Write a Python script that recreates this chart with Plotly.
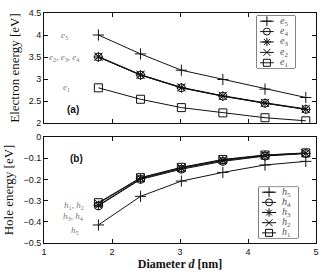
import plotly.graph_objects as go

diam = [1.80, 2.42, 3.02, 3.63, 4.25, 4.85]

e5 = [4.00, 3.57, 3.20, 2.99, 2.77, 2.58]
e4 = [3.50, 3.09, 2.80, 2.61, 2.45, 2.31]
e3 = [3.50, 3.09, 2.80, 2.61, 2.45, 2.31]
e2 = [3.51, 3.10, 2.81, 2.62, 2.46, 2.32]
e1 = [2.80, 2.54, 2.35, 2.23, 2.12, 2.05]

h5 = [-0.415, -0.280, -0.208, -0.167, -0.132, -0.115]
h4 = [-0.325, -0.200, -0.152, -0.115, -0.090, -0.078]
h3 = [-0.322, -0.197, -0.148, -0.111, -0.088, -0.077]
h2 = [-0.313, -0.193, -0.145, -0.108, -0.086, -0.076]
h1 = [-0.310, -0.192, -0.143, -0.106, -0.085, -0.075]

e_names = ["e<sub>5</sub>", "e<sub>4</sub>", "e<sub>3</sub>", "e<sub>2</sub>", "e<sub>1</sub>"]
h_names = ["h<sub>5</sub>", "h<sub>4</sub>", "h<sub>3</sub>", "h<sub>2</sub>", "h<sub>1</sub>"]
symbols = ["cross-thin-open", "circle-open", "asterisk-open", "x-thin-open", "square-open"]

INK = "#111"
serif = "Liberation Serif"

def marker(sym, size=8):
    return dict(symbol=sym, size=size, color=INK, line=dict(width=1, color=INK))

fig = go.Figure()
for name, ys, sym in zip(e_names, [e5, e4, e3, e2, e1], symbols):
    fig.add_trace(go.Scatter(x=diam, y=ys, mode="lines+markers", name=name,
                             line=dict(color=INK, width=1), marker=marker(sym),
                             xaxis="x", yaxis="y", showlegend=False))
for name, ys, sym in zip(h_names, [h5, h4, h3, h2, h1], symbols):
    fig.add_trace(go.Scatter(x=diam, y=ys, mode="lines+markers", name=name,
                             line=dict(color=INK, width=1), marker=marker(sym),
                             xaxis="x2", yaxis="y2", showlegend=False))

# compact legend boxes (plotly's native legend rows are too tall for this size)
legend_boxes = [
    (e_names, "x3", "y3", [0.783, 0.923], [0.761, 0.987]),
    (h_names, "x4", "y4", [0.790, 0.934], [0.022, 0.243]),
]
shapes = []
anns = []
for names, xa, ya, xd, yd in legend_boxes:
    n = len(names)
    for i, (nm, sym) in enumerate(zip(names, symbols)):
        yy = 1 - (i + 0.5) / n
        fig.add_trace(go.Scatter(x=[0.08, 0.44], y=[yy, yy], mode="lines",
                                 line=dict(color=INK, width=1), xaxis=xa, yaxis=ya,
                                 showlegend=False, hoverinfo="skip"))
        fig.add_trace(go.Scatter(x=[0.26], y=[yy], mode="markers", marker=marker(sym, 7),
                                 xaxis=xa, yaxis=ya, showlegend=False, hoverinfo="skip"))
        txt = "<i>%s</i><sub>%s</sub>" % (nm[0], nm.split("<sub>")[1].split("</sub>")[0])
        anns.append(dict(x=0.55, y=yy, xref=xa, yref=ya, text=txt, showarrow=False,
                         xanchor="left", yanchor="middle",
                         font=dict(family=serif, size=10, color="#555")))
    shapes.append(dict(type="rect", xref="paper", yref="paper", x0=xd[0], x1=xd[1], y0=yd[0], y1=yd[1],
                       line=dict(color=INK, width=1), fillcolor="white", layer="below"))

tickfont = dict(family="Liberation Sans", size=9, color=INK)
axcommon = dict(showline=True, linecolor=INK, linewidth=1, mirror="ticks", ticks="inside",
                ticklen=4, tickcolor=INK, showgrid=False, zeroline=False, tickfont=tickfont)
hidden = dict(range=[0, 1], visible=False, fixedrange=True)

fig.update_layout(
    width=321, height=272,
    margin=dict(l=44, r=5, t=13, b=29, autoexpand=False),
    paper_bgcolor="white", plot_bgcolor="white",
    xaxis=dict(domain=[0, 1], range=[1, 5], dtick=1, showticklabels=False, anchor="y", **axcommon),
    yaxis=dict(domain=[0.5217, 1], range=[2, 4.5], dtick=0.5, anchor="x",
               title=dict(text="Electron energy [eV]", font=dict(family=serif, size=13, color=INK), standoff=6),
               **axcommon),
    xaxis2=dict(domain=[0, 1], range=[1, 5], dtick=1, anchor="y2",
                title=dict(text="<b>Diameter <i>d</i> [nm]</b>", font=dict(family=serif, size=12, color=INK), standoff=1),
                **axcommon),
    yaxis2=dict(domain=[0, 0.4609], range=[-0.5, 0], dtick=0.1, anchor="x2",
                title=dict(text="Hole energy [eV]", font=dict(family=serif, size=13, color=INK), standoff=6),
                **axcommon),
    xaxis3=dict(domain=legend_boxes[0][3], anchor="y3", **hidden),
    yaxis3=dict(domain=legend_boxes[0][4], anchor="x3", **hidden),
    xaxis4=dict(domain=legend_boxes[1][3], anchor="y4", **hidden),
    yaxis4=dict(domain=legend_boxes[1][4], anchor="x4", **hidden),
    showlegend=False,
)

ann_font = dict(family=serif, size=9, color="#777")
anns += [
    dict(x=1.3, y=4.0, xref="x", yref="y", text="<i>e</i><sub>5</sub>", showarrow=False, font=ann_font),
    dict(x=1.3, y=3.5, xref="x", yref="y", text="<i>e</i><sub>2</sub>, <i>e</i><sub>3</sub>, <i>e</i><sub>4</sub>", showarrow=False, font=ann_font),
    dict(x=1.33, y=2.8, xref="x", yref="y", text="<i>e</i><sub>1</sub>", showarrow=False, font=ann_font),
    dict(x=1.42, y=2.3, xref="x", yref="y", text="<b>(a)</b>", showarrow=False,
         font=dict(family="Liberation Sans", size=10, color=INK)),
    dict(x=1.48, y=-0.1, xref="x2", yref="y2", text="<b>(b)</b>", showarrow=False,
         font=dict(family="Liberation Sans", size=10, color=INK)),
    dict(x=1.62, y=-0.325, xref="x2", yref="y2", text="<i>h</i><sub>1</sub>, <i>h</i><sub>2</sub>", showarrow=False, xanchor="right", font=ann_font),
    dict(x=1.62, y=-0.375, xref="x2", yref="y2", text="<i>h</i><sub>3</sub>, <i>h</i><sub>4</sub>", showarrow=False, xanchor="right", font=ann_font),
    dict(x=1.55, y=-0.44, xref="x2", yref="y2", text="<i>h</i><sub>5</sub>", showarrow=False, xanchor="right", font=ann_font),
]
fig.update_layout(annotations=anns, shapes=shapes)

fig.write_html("out.html", config={"displayModeBar": False},
               post_script="document.body.style.margin='0';document.body.style.overflow='hidden';")
